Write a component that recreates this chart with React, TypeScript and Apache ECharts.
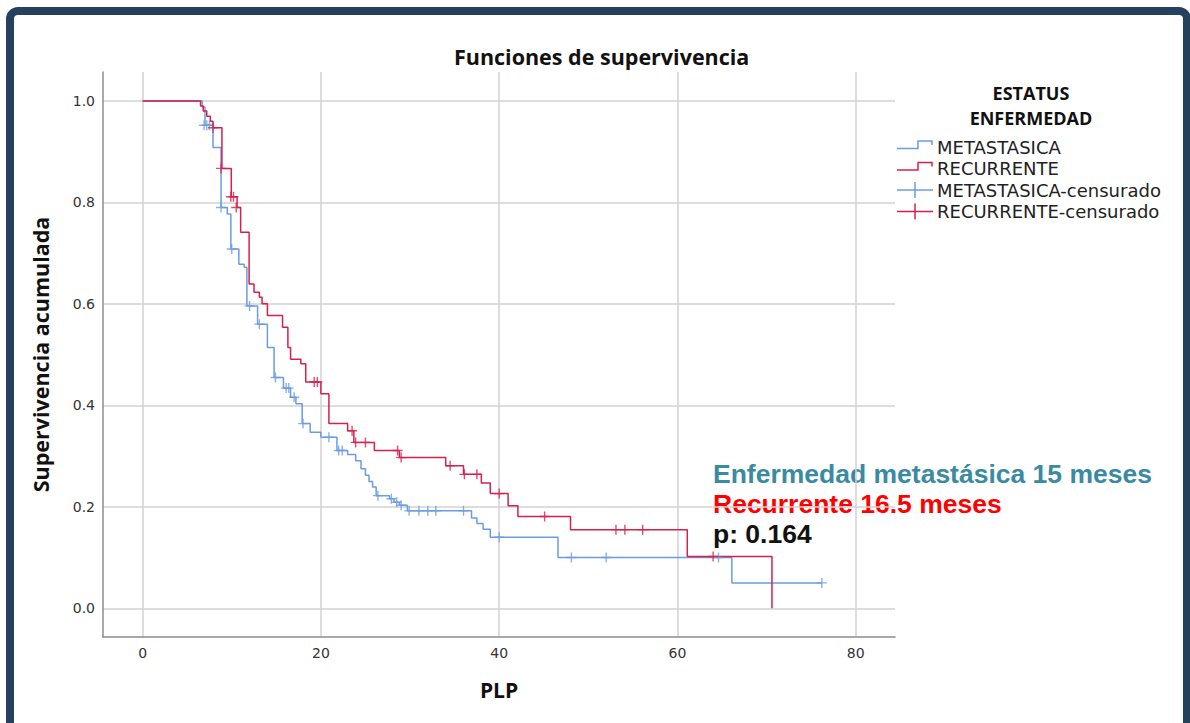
import React, { useEffect, useRef } from "react";
import * as echarts from "echarts";

// METASTASICA: Kaplan-Meier step points (time, survival)
const metaT = [0, 6.7, 7.0, 7.9, 8.8, 9.5, 9.9, 10.8, 11.4, 11.7, 12.9, 14.0, 14.75, 15.8, 16.6, 17.2, 17.9, 18.8, 20.0, 21.8, 23.0, 23.9, 24.5, 25.0, 25.4, 25.8, 26.2, 27.7, 28.2, 28.8, 29.7, 36.9, 37.5, 38.2, 39.0, 46.6, 66.1, 76.2];
const metaS = [1.0, 0.988, 0.952, 0.908, 0.79, 0.777, 0.708, 0.678, 0.672, 0.596, 0.56, 0.514, 0.455, 0.434, 0.416, 0.403, 0.364, 0.347, 0.337, 0.311, 0.303, 0.291, 0.275, 0.262, 0.25, 0.239, 0.222, 0.216, 0.209, 0.203, 0.192, 0.178, 0.167, 0.156, 0.14, 0.1, 0.05, 0.05];
// METASTASICA censored
const metaCensT = [6.9, 7.2, 7.5, 8.8, 10.0, 12.0, 13.1, 14.9, 16.1, 16.4, 17.0, 18.0, 20.9, 22.0, 22.4, 26.4, 27.9, 28.5, 29.0, 29.9, 31.0, 32.0, 32.9, 36.0, 40.0, 48.1, 52.0, 64.6, 76.2];
const metaCensS = [0.952, 0.952, 0.952, 0.79, 0.708, 0.596, 0.56, 0.455, 0.434, 0.434, 0.416, 0.364, 0.337, 0.311, 0.311, 0.222, 0.216, 0.209, 0.203, 0.192, 0.192, 0.192, 0.192, 0.192, 0.14, 0.1, 0.1, 0.1, 0.05];

// RECURRENTE
const recT = [0, 6.5, 6.8, 7.2, 7.6, 7.9, 8.9, 9.95, 10.6, 11.0, 11.95, 12.5, 13.1, 13.4, 14.0, 15.7, 16.3, 16.6, 17.75, 18.3, 20.0, 20.9, 23.0, 23.7, 26.0, 28.8, 34.0, 36.0, 38.0, 39.0, 41.0, 42.1, 48.0, 61.1, 70.6];
const recS = [1.0, 0.99, 0.98, 0.97, 0.96, 0.947, 0.867, 0.811, 0.79, 0.741, 0.639, 0.623, 0.613, 0.6, 0.577, 0.554, 0.514, 0.491, 0.482, 0.446, 0.423, 0.364, 0.35, 0.327, 0.311, 0.297, 0.281, 0.264, 0.247, 0.226, 0.202, 0.181, 0.155, 0.102, 0.0];
const recCensT = [7.9, 8.8, 9.9, 10.2, 10.5, 19.25, 19.6, 23.5, 23.9, 25.0, 28.6, 29.0, 34.5, 36.1, 37.5, 40.0, 45.1, 53.1, 54.1, 56.1, 64.0];
const recCensS = [0.947, 0.867, 0.811, 0.811, 0.79, 0.446, 0.446, 0.35, 0.327, 0.327, 0.311, 0.297, 0.281, 0.264, 0.264, 0.226, 0.181, 0.155, 0.155, 0.155, 0.102];

const xTicks = [0, 20, 40, 60, 80];
const yTicks = [0, 0.2, 0.4, 0.6, 0.8, 1.0];
const seriesNames = ["METASTASICA", "RECURRENTE", "METASTASICA-censurado", "RECURRENTE-censurado"];
const legendTitle = ["ESTATUS", "ENFERMEDAD"];
const annotations = ["Enfermedad metastásica 15 meses", "Recurrente 16.5 meses", "p: 0.164"];

const BLUE = "#6a9de2";
const RED = "#d6204c";
const PLUS = "path://M4.3,0H5.7V10H4.3Z M0,4.3H10V5.7H0Z";

const zip = (a: number[], b: number[]) => a.map((v, i) => [v, b[i]]);

export default function App() {
  const ref = useRef<HTMLDivElement>(null);
  useEffect(() => {
    if (!ref.current) return;
    const chart = echarts.init(ref.current, undefined, { renderer: "svg" });
    const legendY = [147, 168.5, 190, 211.5];
    const legendGraphics: any[] = [];
    // step icons
    [BLUE, RED].forEach((c, i) => {
      const y = legendY[i];
      legendGraphics.push({
        type: "polyline",
        shape: { points: [[897, y + 1.5], [918, y + 1.5], [918, y - 6], [932, y - 6], [932, y - 2]] },
        style: { stroke: c, fill: "none", lineWidth: 1.5 },
      });
    });
    [BLUE, RED].forEach((c, i) => {
      const y = legendY[i + 2];
      legendGraphics.push({ type: "line", shape: { x1: 897, y1: y, x2: 933, y2: y }, style: { stroke: c, lineWidth: 1.5 } });
      legendGraphics.push({ type: "line", shape: { x1: 915, y1: y - 8, x2: 915, y2: y + 8 }, style: { stroke: c, lineWidth: 1.5 } });
    });
    seriesNames.forEach((n, i) => {
      legendGraphics.push({
        type: "text",
        x: 937,
        y: legendY[i],
        style: { text: n, fontFamily: "DejaVu Sans", fontSize: 18, fill: "#222", verticalAlign: "middle", align: "left" },
      });
    });
    legendTitle.forEach((t, i) => {
      legendGraphics.push({
        type: "text",
        x: 1031,
        y: i === 0 ? 93 : 118,
        style: {
          text: t,
          fontFamily: "Open Sans",
          fontWeight: "bold",
          fontSize: 18,
          fill: "#111",
          align: "center",
          verticalAlign: "middle",
        },
      });
    });
    const annColors = ["#3a8aa2", "#ff0000", "#111111"];
    annotations.forEach((t, i) => {
      legendGraphics.push({
        type: "text",
        x: 713,
        y: 474 + i * 30,
        style: { text: t, fontFamily: "Liberation Sans", fontWeight: "bold", fontSize: 26.5, fill: annColors[i], align: "left", verticalAlign: "middle" },
      });
    });

    chart.setOption({
      animation: false,
      backgroundColor: "#ffffff",
      title: {
        text: "Funciones de supervivencia",
        left: 449,
        top: 40,
        textStyle: { fontFamily: "Open Sans", fontWeight: "bold", fontSize: 21.5, color: "#111" },
      },
      grid: { left: 103, top: 72, width: 792, height: 565, containLabel: false },
      xAxis: {
        type: "value",
        min: -4.44,
        max: 84.4,
        name: "PLP",
        nameLocation: "middle",
        nameGap: 42,
        nameTextStyle: { fontFamily: "Open Sans", fontWeight: "bold", fontSize: 21, color: "#111" },
        axisLine: { show: true, onZero: false, lineStyle: { color: "#8c8c8c", width: 1.5 } },
        axisTick: { show: false, customValues: xTicks },
        axisLabel: { customValues: xTicks, color: "#333", fontSize: 14, fontFamily: "DejaVu Sans", margin: 9 },
        splitLine: { show: true, lineStyle: { color: "#d2d2d2", width: 1.5 } },
      },
      yAxis: {
        type: "value",
        min: -0.0566,
        max: 1.057,
        name: "Supervivencia acumulada",
        nameLocation: "middle",
        nameGap: 52,
        nameTextStyle: { fontFamily: "Open Sans", fontWeight: "bold", fontSize: 21.5, color: "#111" },
        axisLine: { show: true, onZero: false, lineStyle: { color: "#8c8c8c", width: 1.5 } },
        axisTick: { show: false, customValues: yTicks },
        axisLabel: {
          customValues: yTicks,
          color: "#333",
          fontSize: 14,
          fontFamily: "DejaVu Sans",
          margin: 8,
          formatter: (v: number) => v.toFixed(1),
        },
        splitLine: { show: true, lineStyle: { color: "#d2d2d2", width: 1.5 } },
      },
      graphic: [
        {
          type: "rect",
          shape: { x: 10, y: 11, width: 1177, height: 760, r: 8 },
          style: { fill: "none", stroke: "#264060", lineWidth: 8 },
          z: 100,
        },
        ...legendGraphics,
      ],
      series: [
        {
          name: seriesNames[0],
          type: "line",
          step: "end",
          data: zip(metaT, metaS),
          symbol: "none",
          lineStyle: { color: BLUE, width: 1.5 },
          z: 3,
        },
        {
          name: seriesNames[1],
          type: "line",
          step: "end",
          data: zip(recT, recS),
          symbol: "none",
          lineStyle: { color: RED, width: 1.5 },
          z: 4,
        },
        {
          name: seriesNames[2],
          type: "scatter",
          data: zip(metaCensT, metaCensS),
          symbol: PLUS,
          symbolSize: 10,
          itemStyle: { color: BLUE },
          z: 5,
        },
        {
          name: seriesNames[3],
          type: "scatter",
          data: zip(recCensT, recCensS),
          symbol: PLUS,
          symbolSize: 10,
          itemStyle: { color: RED },
          z: 6,
        },
      ],
    });
    return () => chart.dispose();
  }, []);
  return <div ref={ref} style={{ position: "absolute", left: 0, top: 0, width: 1190, height: 723 }} />;
}
